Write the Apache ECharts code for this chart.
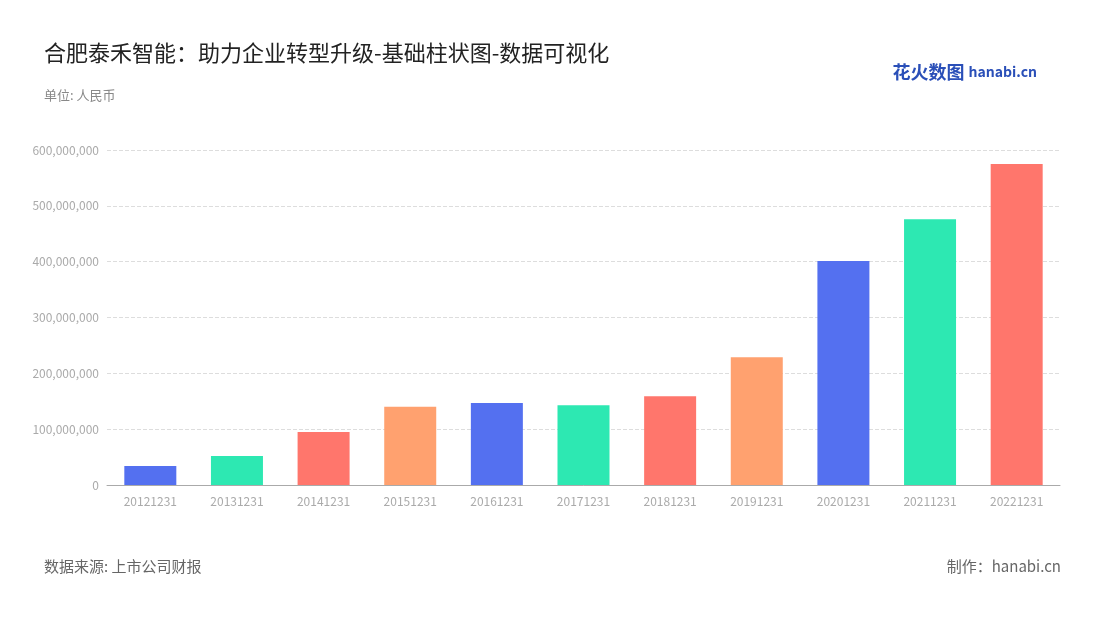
<!DOCTYPE html>
<html><head><meta charset="utf-8">
<script src="https://cdn.jsdelivr.net/npm/echarts@6/dist/echarts.min.js"></script>
<style>html,body{margin:0;background:#fff}#chart{width:1100px;height:620px}</style>
</head><body><div id="chart"></div>
<script>
const categories = ["20121231","20131231","20141231","20151231","20161231","20171231","20181231","20191231","20201231","20211231","20221231"];
const values = [34000000,52000000,95000000,140000000,147000000,143000000,159000000,229000000,401000000,476000000,575000000];
const palette = ["#5470f0","#2de8b2","#ff766c","#ffa16f"];

const chart = echarts.init(document.getElementById("chart"));
const font = "'Noto Sans CJK SC', 'Noto Sans', sans-serif";
chart.setOption({
  textStyle: { fontFamily: font },
  title: [
    { text: "合肥泰禾智能：助力企业转型升级-基础柱状图-数据可视化", left: 39, top: 37, textStyle: { fontSize: 22, fontWeight: "normal", color: "#222", fontFamily: font } },
    { text: "单位: 人民币", left: 39, top: 84, textStyle: { fontSize: 13, fontWeight: "normal", color: "#888", fontFamily: font } },
    { text: "数据来源: 上市公司财报", left: 39, top: 554, textStyle: { fontSize: 15, fontWeight: "normal", color: "#666", fontFamily: font } },
    { text: "制作：hanabi.cn", right: 34, top: 554, textStyle: { fontSize: 15, fontWeight: "normal", color: "#666", fontFamily: font } },
    { text: "{a|花火数图} {b|hanabi.cn}", right: 58, top: 58, textStyle: { rich: {
      a: { fontSize: 18, fontWeight: "bold", color: "#2a4fb8", fontFamily: font },
      b: { fontSize: 14, fontWeight: "bold", color: "#2a4fb8", fontFamily: font } } } }
  ],
  grid: { left: 107, right: 40, top: 150, bottom: 135 },
  xAxis: {
    type: "category", data: categories,
    axisLine: { lineStyle: { color: "#aaa" } },
    axisTick: { show: false },
    axisLabel: { color: "#aaa", fontSize: 12, margin: 10 }
  },
  yAxis: {
    type: "value", min: 0, max: 600000000, interval: 100000000,
    axisLabel: { color: "#aaa", fontSize: 12, formatter: v => v.toLocaleString("en-US") },
    splitLine: { lineStyle: { type: "dashed", color: "#ddd" } }
  },
  series: [{
    type: "bar", barWidth: 52,
    data: values.map((v, i) => ({ value: v, itemStyle: { color: palette[i % 4] } })),
    animation: false
  }]
});
</script></body></html>
